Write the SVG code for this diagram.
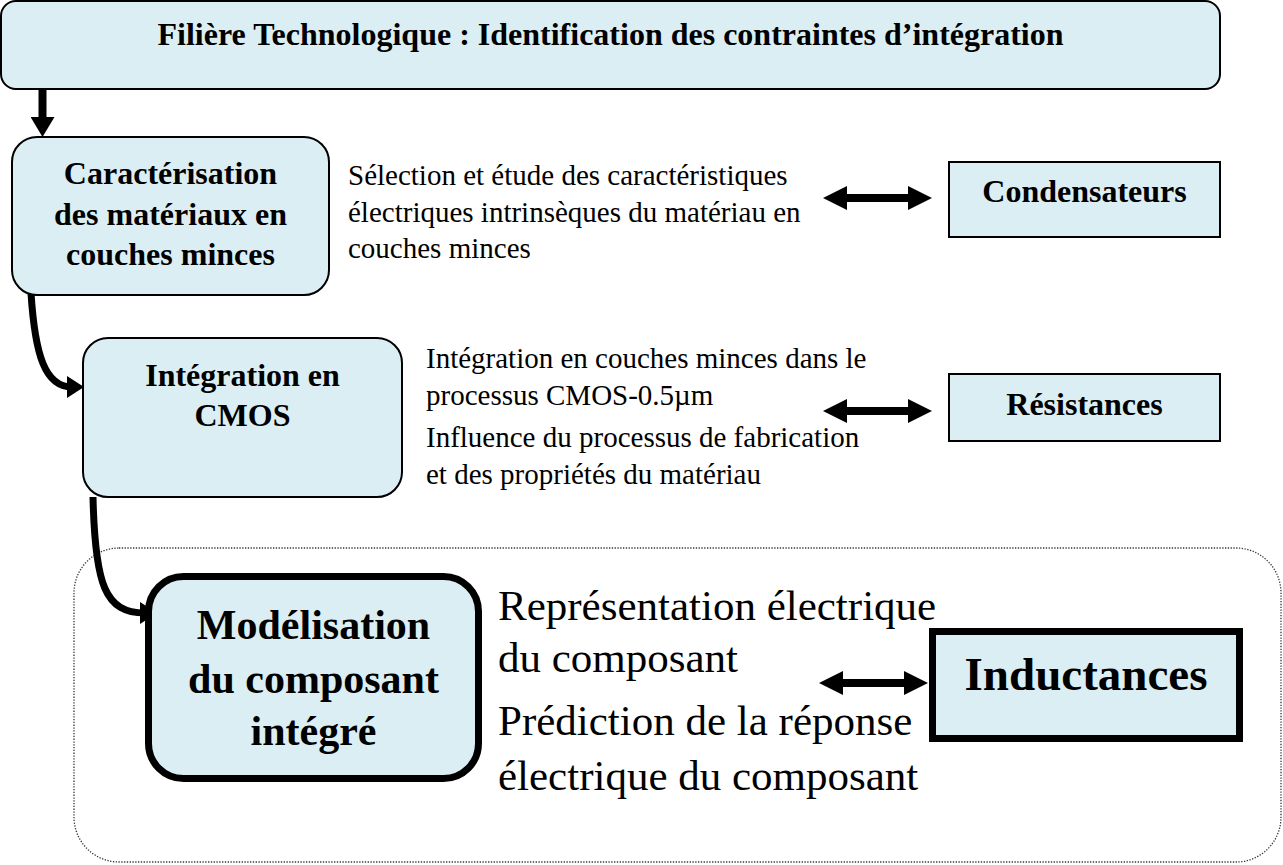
<svg xmlns="http://www.w3.org/2000/svg" width="1283" height="865" viewBox="0 0 1283 865">
<style>
.box{fill:#DBEEF4;stroke:#000;stroke-width:2}
.thick{fill:#DBEEF4;stroke:#000;stroke-width:7}
.b{font-family:"Liberation Serif","Times New Roman",serif;font-weight:bold;fill:#000;text-anchor:middle}
.r{font-family:"Liberation Serif","Times New Roman",serif;fill:#000}
.con{fill:none;stroke:#000}
</style>
<defs>
<marker id="hv" markerUnits="userSpaceOnUse" markerWidth="20" markerHeight="24" refX="8" refY="12" orient="auto"><path d="M0,0 L20,12 L0,24 z" fill="#000"/></marker>
<marker id="hd" markerUnits="userSpaceOnUse" markerWidth="24" markerHeight="24" refX="10" refY="12" orient="auto-start-reverse"><path d="M0,0 L24,12 L0,24 z" fill="#000"/></marker>
<marker id="hc" markerUnits="userSpaceOnUse" markerWidth="17" markerHeight="22" refX="5" refY="11" orient="auto"><path d="M0,0 L17,11 L0,22 z" fill="#000"/></marker>
</defs>
<rect id="groupe" x="74" y="548" width="1207" height="314" rx="45" fill="none" stroke="#333" stroke-width="1.3" stroke-dasharray="1.3 1.5"/>
<g id="connecteurs">
<path class="con" stroke-width="8" d="M42.5 89 L42.5 125" marker-end="url(#hv)"/>
<path class="con" stroke-width="7" d="M31 293 C35 355,45 387,72 387" marker-end="url(#hc)"/>
<path class="con" stroke-width="7" d="M93 497 C95 585,105 613,145 613" marker-end="url(#hc)"/>
<path class="con" stroke-width="8" d="M837 198 L918 198" marker-start="url(#hd)" marker-end="url(#hd)"/>
<path class="con" stroke-width="8" d="M837 411 L918 411" marker-start="url(#hd)" marker-end="url(#hd)"/>
<path class="con" stroke-width="8" d="M833 683 L914 683" marker-start="url(#hd)" marker-end="url(#hd)"/>
</g>
<g id="filiere">
<rect class="box" x="1" y="1" width="1219" height="88" rx="15"/>
<text class="b" x="610.5" y="45" font-size="32">Filière Technologique : Identification des contraintes d’intégration</text>
</g>
<g id="caracterisation">
<rect class="box" x="12" y="137" width="317" height="158" rx="25"/>
<text class="b" font-size="32"><tspan x="170.5" y="184">Caractérisation</tspan><tspan x="170.5" y="225">des matériaux en</tspan><tspan x="170.5" y="265">couches minces</tspan></text>
</g>
<g id="texte-selection">
<text class="r" font-size="29"><tspan x="348" y="185">Sélection et étude des caractéristiques</tspan><tspan x="348" y="222">électriques intrinsèques du matériau en</tspan><tspan x="348" y="258">couches minces</tspan></text>
</g>
<g id="condensateurs">
<rect class="box" x="949" y="162" width="271" height="75"/>
<text class="b" x="1084.5" y="202" font-size="32">Condensateurs</text>
</g>
<g id="integration">
<rect class="box" x="83" y="338" width="319" height="159" rx="25"/>
<text class="b" font-size="32"><tspan x="242.5" y="386">Intégration en</tspan><tspan x="242.5" y="426">CMOS</tspan></text>
</g>
<g id="texte-integration">
<text class="r" font-size="29"><tspan x="426" y="368">Intégration en couches minces dans le</tspan><tspan x="426" y="405">processus CMOS-0.5µm</tspan><tspan x="426" y="447">Influence du processus de fabrication</tspan><tspan x="426" y="484">et des propriétés du matériau</tspan></text>
</g>
<g id="resistances">
<rect class="box" x="949" y="374" width="271" height="67"/>
<text class="b" x="1084.5" y="415" font-size="32">Résistances</text>
</g>
<g id="modelisation">
<rect class="thick" x="148.5" y="576.5" width="330" height="202" rx="35"/>
<text class="b" font-size="42"><tspan x="313.5" y="639">Modélisation</tspan><tspan x="313.5" y="693">du composant</tspan><tspan x="313.5" y="745">intégré</tspan></text>
</g>
<g id="texte-modelisation">
<text class="r" font-size="43"><tspan x="498" y="620">Représentation électrique</tspan><tspan x="498" y="672">du composant</tspan><tspan x="498" y="735">Prédiction de la réponse</tspan><tspan x="498" y="790">électrique du composant</tspan></text>
</g>
<g id="inductances">
<rect class="thick" x="932.5" y="631.5" width="307" height="107"/>
<text class="b" x="1086" y="690" font-size="47">Inductances</text>
</g>
</svg>
